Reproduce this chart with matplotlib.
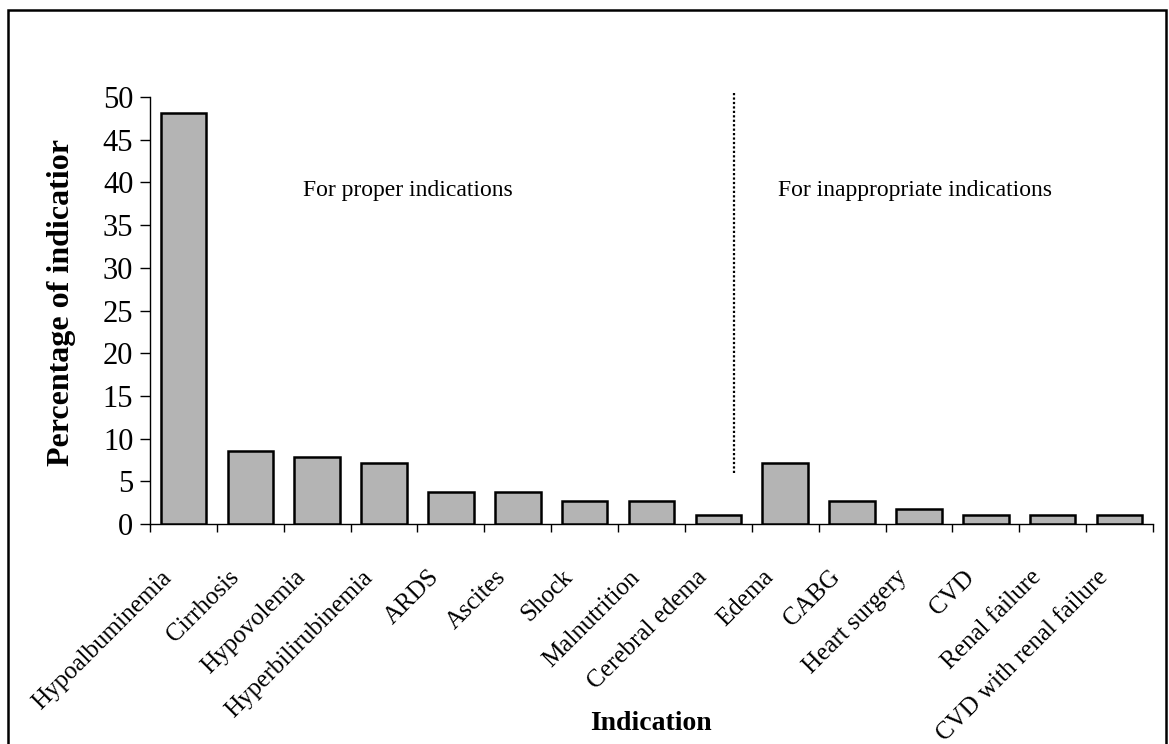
import matplotlib
matplotlib.use("Agg")
import matplotlib.pyplot as plt
from matplotlib.patches import Rectangle
from matplotlib.transforms import ScaledTranslation
import numpy as np

categories = ["Hypoalbuminemia", "Cirrhosis", "Hypovolemia", "Hyperbilirubinemia",
              "ARDS", "Ascites", "Shock", "Malnutrition", "Cerebral edema",
              "Edema", "CABG", "Heart surgery", "CVD", "Renal failure",
              "CVD with renal failure"]
values = [48.1, 8.6, 7.8, 7.2, 3.8, 3.8, 2.7, 2.7, 1.0, 7.1, 2.7, 1.8, 1.0, 1.0, 1.0]
yticks = [0, 5, 10, 15, 20, 25, 30, 35, 40, 45, 50]

plt.rcParams['font.family'] = ['Liberation Serif', 'DejaVu Serif']

W, H = 1169, 744
fig = plt.figure(figsize=(W / 100, H / 100), dpi=100)
ax = fig.add_axes([150 / W, 1 - 524 / H, (1153 - 150) / W, (524 - 97) / H])

x = np.arange(len(categories))
ax.bar(x, values, width=0.68, color='#b4b4b4', edgecolor='black', linewidth=1.8, zorder=3)

ax.set_xlim(-0.5, len(categories) - 0.5)
ax.set_ylim(0, 50)
ax.set_yticks(yticks)
ax.set_yticklabels([str(t) for t in yticks], fontsize=22)
ax.tick_params(axis='y', direction='out', length=7, width=1, pad=5)

ax.set_xticks(x)
ax.set_xticklabels(categories, rotation=45, ha='right', va='center',
                   rotation_mode='anchor', fontsize=18)
ax.tick_params(axis='x', which='major', length=0, pad=36)
offset = ScaledTranslation(-15 / 100, 0, fig.dpi_scale_trans)
for lab in ax.get_xticklabels():
    lab.set_transform(lab.get_transform() + offset)
ax.set_xticks(np.arange(-0.5, len(categories)), minor=True)
ax.tick_params(axis='x', which='minor', direction='out', length=6, width=1)

for s in ['top', 'right']:
    ax.spines[s].set_visible(False)
ax.spines['left'].set_linewidth(1)
ax.spines['bottom'].set_linewidth(1)

fig.text(62 / W, 1 - 302 / H, "Percentage of indicatior", fontsize=23, fontweight='bold',
         rotation=90, ha='center', va='center')
fig.text(651 / W, 1 - 723 / H, "Indication", fontsize=20, fontweight='bold',
         ha='center', va='center')

ax.plot([8.24, 8.24], [6, 50.6], linestyle=(0, (1, 1)), color='black', linewidth=1.6, clip_on=False)

ax.text(1.79, 39.1, "For proper indications", fontsize=17, va='center', ha='left')
ax.text(8.89, 39.1, "For inappropriate indications", fontsize=17, va='center', ha='left')

fig.patches.append(Rectangle((8 / W, -0.05), (1166 - 8) / W, 1.05 - 10 / H,
                             transform=fig.transFigure, fill=False, edgecolor='black',
                             linewidth=1.8, clip_on=False))

fig.savefig("out.png", dpi=100)
